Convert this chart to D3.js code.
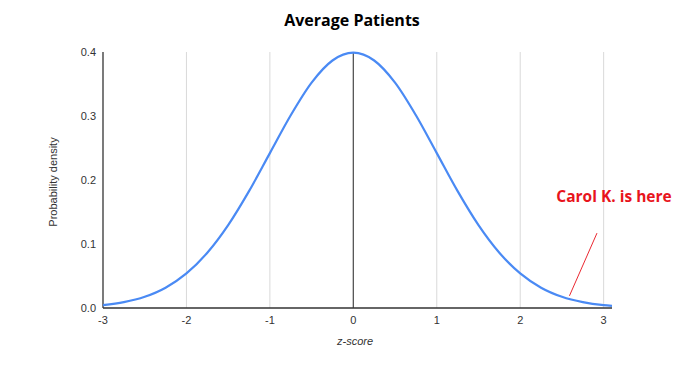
<!DOCTYPE html>
<html>
<head>
<meta charset="utf-8">
<script src="https://cdn.jsdelivr.net/npm/d3@7"></script>
<style>
  body { margin: 0; background: #fff; }
  svg { display: block; }
</style>
</head>
<body>
<div id="chart"></div>
<script>
const WIDTH = 690;
const HEIGHT = 384;

// values (z-score -> density)
const zScores = [-3, -2.75, -2.5, -2.25, -2, -1.75, -1.5, -1.25, -1, -0.75, -0.5, -0.25, 0,
                 0.25, 0.5, 0.75, 1, 1.25, 1.5, 1.75, 2, 2.25, 2.5, 2.75, 3, 3.1];
const density = [0.0044, 0.0091, 0.0175, 0.0317, 0.0540, 0.0863, 0.1295, 0.1826, 0.2420, 0.3011, 0.3521, 0.3867, 0.3989,
                 0.3867, 0.3521, 0.3011, 0.2420, 0.1826, 0.1295, 0.0863, 0.0540, 0.0317, 0.0175, 0.0091, 0.0044, 0.0033];

const xTicks = [-3, -2, -1, 0, 1, 2, 3];
const yTicks = [0, 0.1, 0.2, 0.3, 0.4];

// annotation line, in data units
const noteFrom = [2.92, 0.117];
const noteTo = [2.59, 0.019];
const noteText = "Carol K. is here";

const svg = d3.select("#chart").append("svg")
  .attr("width", WIDTH)
  .attr("height", HEIGHT);

const x = d3.scaleLinear().domain([-3, 3.1]).range([103, 612]);
const y = d3.scaleLinear().domain([0, 0.4]).range([308, 52]);

// title
svg.append("text")
  .attr("x", 352).attr("y", 26)
  .attr("text-anchor", "middle")
  .style("font-family", "'Open Sans', sans-serif")
  .style("font-weight", "700")
  .style("font-size", "16px")
  .style("fill", "#000")
  .text("Average Patients");

// vertical grid
svg.selectAll(".grid")
  .data(xTicks.filter(d => d !== -3))
  .enter().append("line")
  .attr("x1", d => x(d)).attr("x2", d => x(d))
  .attr("y1", y(0.4)).attr("y2", y(0))
  .attr("stroke", d => d === 0 ? "#555" : "#d9d9d9")
  .attr("stroke-width", d => d === 0 ? 1.3 : 1);

// axes lines
svg.append("line")
  .attr("x1", x(-3)).attr("x2", x(3.1))
  .attr("y1", y(0)).attr("y2", y(0))
  .attr("stroke", "#333").attr("stroke-width", 1.5);
svg.append("line")
  .attr("x1", x(-3)).attr("x2", x(-3))
  .attr("y1", y(0.4)).attr("y2", y(0))
  .attr("stroke", "#333").attr("stroke-width", 1.3);

// tick labels
svg.selectAll(".xlab")
  .data(xTicks)
  .enter().append("text")
  .attr("x", d => x(d)).attr("y", y(0) + 16)
  .attr("text-anchor", "middle")
  .style("font-family", "'Liberation Sans', Arial, sans-serif")
  .style("font-size", "11px")
  .style("fill", "#333")
  .text(d => d);

svg.selectAll(".ylab")
  .data(yTicks)
  .enter().append("text")
  .attr("x", x(-3) - 7).attr("y", d => y(d) + 4)
  .attr("text-anchor", "end")
  .style("font-family", "'Liberation Sans', Arial, sans-serif")
  .style("font-size", "11px")
  .style("fill", "#333")
  .text(d => d.toFixed(1));

// axis titles
svg.append("text")
  .attr("x", 355).attr("y", 345)
  .attr("text-anchor", "middle")
  .style("font-family", "'Liberation Sans', Arial, sans-serif")
  .style("font-size", "11px")
  .style("font-style", "italic")
  .style("fill", "#333")
  .text("z-score");

svg.append("text")
  .attr("transform", "translate(57,182) rotate(-90)")
  .attr("text-anchor", "middle")
  .style("font-family", "'Liberation Sans', Arial, sans-serif")
  .style("font-size", "11px")
  .style("fill", "#333")
  .text("Probability density");

// curve
const line = d3.line()
  .x((d, i) => x(zScores[i]))
  .y(d => y(d))
  .curve(d3.curveMonotoneX);

svg.append("path")
  .datum(density)
  .attr("d", line)
  .attr("fill", "none")
  .attr("stroke", "#4a8af4")
  .attr("stroke-width", 2.2);

// annotation
svg.append("line")
  .attr("x1", x(noteFrom[0])).attr("y1", y(noteFrom[1]))
  .attr("x2", x(noteTo[0])).attr("y2", y(noteTo[1]))
  .attr("stroke", "#e8101a").attr("stroke-width", 0.9);

svg.append("text")
  .attr("x", 614).attr("y", 202)
  .attr("text-anchor", "middle")
  .style("font-family", "'Open Sans', sans-serif")
  .style("font-weight", "700")
  .style("font-size", "15.5px")
  .style("fill", "#e8141c")
  .text(noteText);
</script>
</body>
</html>
